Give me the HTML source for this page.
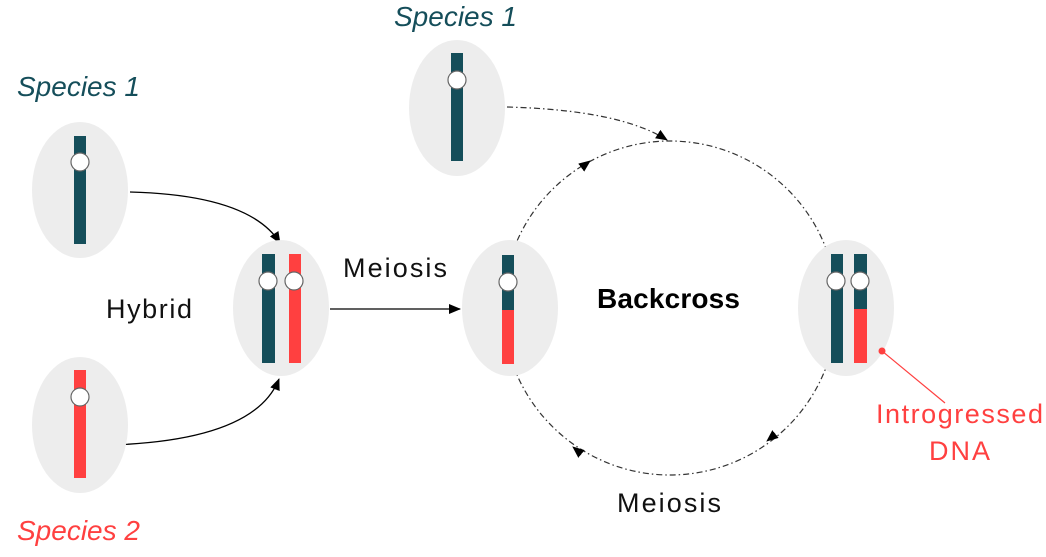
<!DOCTYPE html>
<html><head><meta charset="utf-8"><style>
html,body{margin:0;padding:0;background:#fff;}
svg{display:block;font-family:"Liberation Sans",sans-serif;}
</style></head><body>
<svg width="1046" height="557" viewBox="0 0 1046 557">
<defs>
<marker id="ah" markerWidth="14" markerHeight="14" refX="11" refY="6" orient="auto" markerUnits="userSpaceOnUse"><path d="M0,1 L12,6 L0,11 Z" fill="#000"/></marker>
</defs>
<circle cx="670" cy="308" r="167" fill="none" stroke="#333" stroke-width="1.2" stroke-dasharray="6,3,1.5,3"/>
<path d="M578,170 L590,161" stroke="none" fill="none" marker-end="url(#ah)"/>
<path d="M778,432 L767,441" fill="none" marker-end="url(#ah)"/>
<path d="M584,456 L573,447" fill="none" marker-end="url(#ah)"/>
<path d="M507,107 Q620,110 667,140" fill="none" stroke="#333" stroke-width="1.2" stroke-dasharray="6,3,1.5,3" marker-end="url(#ah)"/>
<path d="M130,192 Q250,195 280,243" fill="none" stroke="#000" stroke-width="1.3" marker-end="url(#ah)"/>
<path d="M112,445 Q255,440 279,379" fill="none" stroke="#000" stroke-width="1.3" marker-end="url(#ah)"/>
<path d="M330,309 L460,309" fill="none" stroke="#000" stroke-width="1.3" marker-end="url(#ah)"/>

<g>
<ellipse cx="80" cy="190" rx="48" ry="68" fill="#ededed"/>
<rect x="74" y="136" width="12" height="108" fill="#154e5a"/>
<circle cx="80" cy="162" r="9" fill="#fff" stroke="#666" stroke-width="1.2"/>
</g>
<g>
<ellipse cx="80" cy="425" rx="48" ry="68" fill="#ededed"/>
<rect x="74" y="370" width="12" height="108" fill="#ff4040"/>
<circle cx="80" cy="397" r="9" fill="#fff" stroke="#666" stroke-width="1.2"/>
</g>
<g>
<ellipse cx="281" cy="308" rx="48" ry="68" fill="#ededed"/>
<rect x="262" y="254" width="13" height="109" fill="#154e5a"/>
<rect x="289" y="254" width="12" height="109" fill="#ff4040"/>
<circle cx="268" cy="281" r="9" fill="#fff" stroke="#666" stroke-width="1.2"/>
<circle cx="294" cy="281" r="9" fill="#fff" stroke="#666" stroke-width="1.2"/>
</g>
<g>
<ellipse cx="510" cy="308" rx="48" ry="68" fill="#ededed"/>
<rect x="502" y="255" width="12" height="55" fill="#154e5a"/>
<rect x="502" y="310" width="12" height="54" fill="#ff4040"/>
<circle cx="508" cy="282" r="9" fill="#fff" stroke="#666" stroke-width="1.2"/>
</g>
<g>
<ellipse cx="846" cy="308" rx="48" ry="68" fill="#ededed"/>
<rect x="831" y="254" width="12" height="109" fill="#154e5a"/>
<rect x="854" y="254" width="13" height="55" fill="#154e5a"/>
<rect x="854" y="309" width="13" height="54" fill="#ff4040"/>
<circle cx="836" cy="281" r="9" fill="#fff" stroke="#666" stroke-width="1.2"/>
<circle cx="860" cy="281" r="9" fill="#fff" stroke="#666" stroke-width="1.2"/>
</g>
<g>
<ellipse cx="457" cy="108" rx="48" ry="68" fill="#ededed"/>
<rect x="451" y="53" width="12" height="108" fill="#154e5a"/>
<circle cx="457" cy="80" r="9" fill="#fff" stroke="#666" stroke-width="1.2"/>
</g>
<g>
<circle cx="882" cy="351" r="3.5" fill="#ff4040"/>
<line x1="882" y1="351" x2="945" y2="403" stroke="#ff4040" stroke-width="1.2"/>
</g>

<text x="17" y="96" font-size="28" font-style="italic" fill="#154e5a">Species 1</text>
<text x="394" y="26" font-size="28" font-style="italic" fill="#154e5a">Species 1</text>
<text x="17" y="540" font-size="28" font-style="italic" fill="#ff4040">Species 2</text>
<text x="106" y="318" font-size="27" textLength="86" fill="#111">Hybrid</text>
<text x="343" y="277" font-size="27" textLength="104" fill="#111">Meiosis</text>
<text x="597" y="308" font-size="28" font-weight="bold" textLength="143" fill="#000">Backcross</text>
<text x="617" y="512" font-size="27" textLength="104" fill="#111">Meiosis</text>
<text x="876" y="423" font-size="27" textLength="167" fill="#ff4040">Introgressed</text>
<text x="929" y="460" font-size="27" textLength="61" fill="#ff4040">DNA</text>
</svg>
</body></html>
